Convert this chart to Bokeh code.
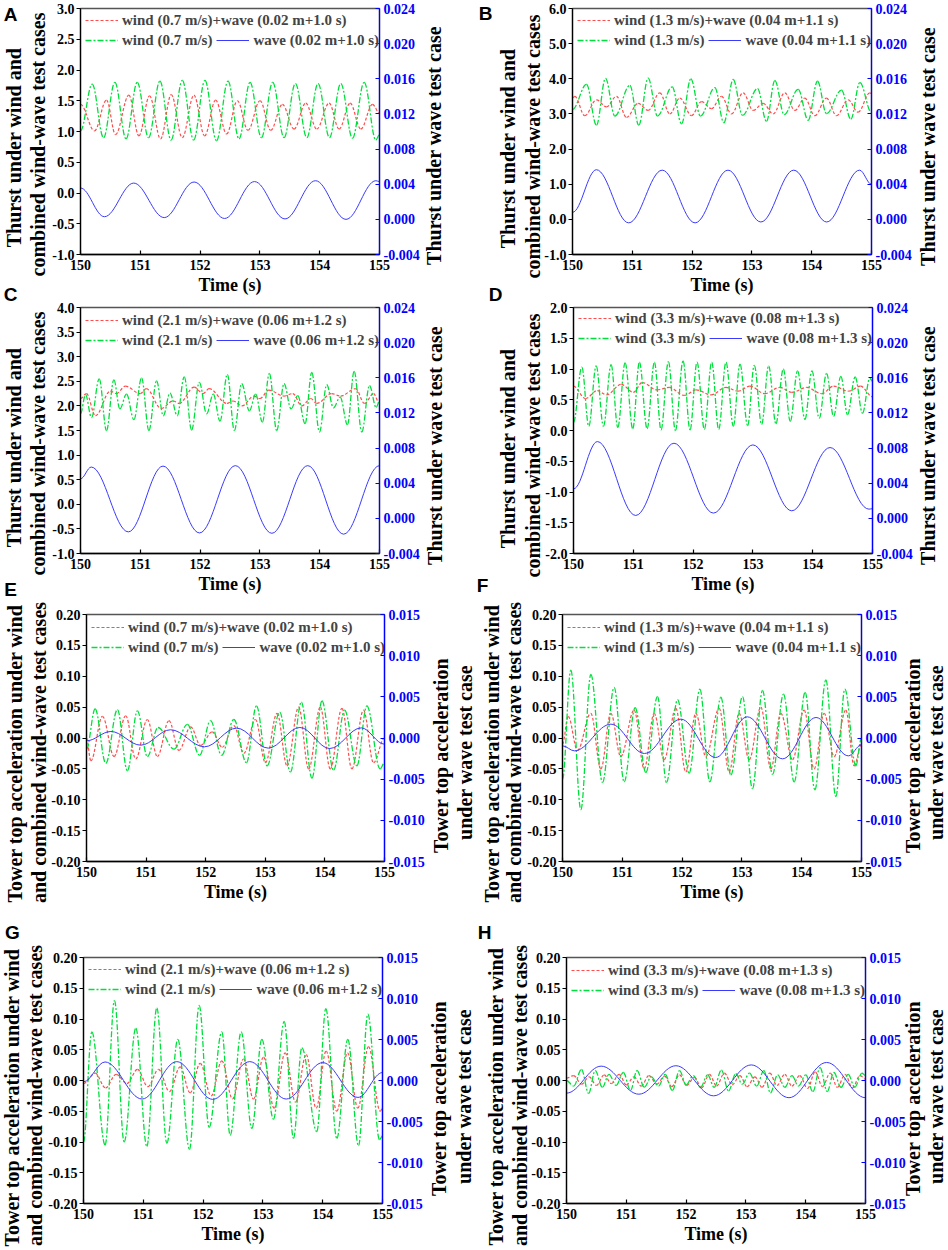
import numpy as np
from bokeh.plotting import figure
from bokeh.models import (Range1d, LinearAxis, FixedTicker, PrintfTickFormatter, Legend,
                          LegendItem, ColumnDataSource, GridBox)
from bokeh.core.properties import value
from bokeh.layouts import column, row
from bokeh.embed import file_html
from bokeh.resources import INLINE

# ---------------- data ----------------
x_ticks = [150, 151, 152, 153, 154, 155]

# Panel A
A_red_t = [150.0, 150.234, 150.435, 150.586, 150.809, 150.977, 151.155, 151.339, 151.518, 151.702, 151.897, 152.076, 152.260, 152.444, 152.623, 152.801, 153.002, 153.181, 153.376, 153.571, 153.767, 153.951, 154.157, 154.325, 154.509, 154.688, 154.883, 155.0]
A_red_v = [1.44, 1.01, 1.51, 0.95, 1.59, 0.93, 1.58, 0.88, 1.60, 0.90, 1.59, 0.93, 1.51, 0.96, 1.50, 1.02, 1.50, 1.02, 1.44, 1.04, 1.46, 1.04, 1.46, 1.04, 1.46, 1.04, 1.44, 1.30]
A_green_t = [150.0, 150.195, 150.385, 150.575, 150.762, 150.949, 151.138, 151.328, 151.515, 151.702, 151.892, 152.081, 152.274, 152.467, 152.651, 152.835, 153.025, 153.214, 153.404, 153.594, 153.784, 153.973, 154.163, 154.353, 154.548, 154.743, 154.94, 155.0]
A_green_v = [1.01, 1.77, 0.90, 1.80, 0.88, 1.80, 0.90, 1.82, 0.86, 1.83, 0.86, 1.83, 0.85, 1.82, 0.88, 1.80, 0.90, 1.80, 0.90, 1.78, 0.90, 1.78, 0.90, 1.78, 0.89, 1.80, 0.86, 0.95]
A_blue_t = [150.0, 150.40, 150.89, 151.40, 151.90, 152.41, 152.91, 153.42, 153.93, 154.44, 154.94, 155.0]
A_blue_v = [0.00357, 0.0003, 0.00413, 0.0002, 0.00425, 0.0001, 0.0043, 0.00005, 0.0044, 0.0, 0.0044, 0.0043]

# Panel B
B_red_t = [150.0, 150.039, 150.206, 150.401, 150.569, 150.736, 150.903, 151.098, 151.265, 151.460, 151.628, 151.795, 151.990, 152.157, 152.324, 152.492, 152.659, 152.854, 153.021, 153.188, 153.356, 153.551, 153.718, 153.885, 154.052, 154.247, 154.415, 154.610, 154.777, 154.972, 155.0]
B_red_v = [3.45, 3.50, 2.95, 3.40, 3.20, 3.50, 2.90, 3.30, 3.10, 3.60, 3.00, 3.45, 2.95, 3.35, 3.15, 3.50, 3.00, 3.60, 3.10, 3.30, 3.00, 3.60, 3.10, 3.45, 2.95, 3.45, 2.95, 3.40, 3.05, 3.60, 3.58]
B_green_t = [150.0, 150.234, 150.401, 150.552, 150.708, 150.959, 151.109, 151.265, 151.421, 151.667, 151.823, 151.979, 152.140, 152.380, 152.531, 152.687, 152.843, 153.094, 153.244, 153.384, 153.540, 153.774, 153.941, 154.097, 154.247, 154.498, 154.654, 154.805, 155.0]
B_green_v = [3.13, 3.84, 2.68, 4.01, 2.94, 3.81, 2.68, 4.02, 2.94, 3.77, 2.72, 4.00, 2.94, 3.75, 2.75, 3.98, 2.96, 3.72, 2.79, 3.95, 2.98, 3.70, 2.82, 3.93, 3.01, 3.68, 2.85, 3.89, 3.04]
B_blue_t = [150.0, 150.40, 150.94, 151.50, 152.05, 152.60, 153.15, 153.70, 154.25, 154.80, 155.0]
B_blue_v = [0.0008, 0.00565, -0.0004, 0.0056, -0.0004, 0.0056, -0.0003, 0.0056, -0.0003, 0.0056, 0.0040]

# Panel C
C_red_t = [150.0, 150.1, 150.25, 150.5, 150.6, 150.75, 151.0, 151.1, 151.35, 151.55, 151.65, 151.9, 152.05, 152.15, 152.45, 152.55, 152.7, 152.9, 153.0, 153.15, 153.4, 153.55, 153.7, 153.85, 153.95, 154.2, 154.35, 154.6, 154.75, 154.9, 155.0]
C_red_v = [2.15, 2.25, 1.80, 2.30, 2.25, 2.40, 2.25, 2.35, 1.95, 2.10, 2.05, 2.38, 2.25, 2.35, 2.05, 2.10, 2.00, 2.20, 2.15, 2.32, 2.20, 2.25, 2.00, 2.15, 2.05, 2.25, 2.20, 2.35, 2.05, 2.25, 2.05]
C_green_t = [150.0, 150.084, 150.184, 150.313, 150.435, 150.558, 150.658, 150.770, 150.893, 151.021, 151.144, 151.272, 151.384, 151.496, 151.618, 151.735, 151.858, 151.987, 152.109, 152.221, 152.333, 152.455, 152.573, 152.695, 152.824, 152.930, 153.041, 153.158, 153.281, 153.404, 153.521, 153.633, 153.756, 153.867, 153.996, 154.118, 154.230, 154.342, 154.464, 154.576, 154.704, 154.833, 154.944, 155.0]
C_green_v = [1.84, 2.23, 1.76, 2.55, 1.50, 2.53, 1.94, 2.24, 1.72, 2.57, 1.50, 2.51, 1.80, 2.26, 1.80, 2.59, 1.51, 2.48, 1.84, 2.24, 1.69, 2.64, 1.50, 2.45, 1.90, 2.24, 1.67, 2.66, 1.50, 2.45, 1.94, 2.21, 1.64, 2.68, 1.47, 2.43, 1.96, 2.18, 1.62, 2.70, 1.47, 2.41, 1.97, 2.10]
C_blue_t = [150.0, 150.18, 150.80, 151.38, 151.99, 152.59, 153.20, 153.80, 154.40, 155.0]
C_blue_v = [0.0045, 0.00584, -0.00154, 0.00595, -0.00166, 0.0060, -0.0017, 0.0060, -0.0018, 0.0060]

# Panel D
D_red_t = [150.0, 150.2, 150.4, 150.55, 150.8, 151.0, 151.15, 151.4, 151.6, 151.85, 152.05, 152.3, 152.55, 152.75, 152.95, 153.2, 153.45, 153.65, 153.9, 154.15, 154.35, 154.6, 154.8, 155.0]
D_red_v = [0.72, 0.52, 0.65, 0.58, 0.75, 0.62, 0.78, 0.66, 0.70, 0.57, 0.66, 0.58, 0.70, 0.64, 0.72, 0.60, 0.70, 0.62, 0.70, 0.60, 0.72, 0.64, 0.72, 0.55]
D_green_t = [150.0, 150.139, 150.256, 150.379, 150.501, 150.629, 150.741, 150.863, 150.991, 151.102, 151.231, 151.353, 151.464, 151.587, 151.704, 151.832, 151.949, 152.066, 152.188, 152.311, 152.428, 152.550, 152.673, 152.784, 152.912, 153.023, 153.146, 153.263, 153.385, 153.508, 153.625, 153.747, 153.870, 153.987, 154.109, 154.232, 154.349, 154.471, 154.582, 154.710, 154.833, 154.955, 155.0]
D_green_v = [0.13, 1.03, 0.07, 1.05, 0.07, 1.07, 0.05, 1.10, 0.03, 1.11, 0.03, 1.11, 0.01, 1.12, 0.00, 1.13, 0.01, 1.11, 0.02, 1.11, 0.02, 1.11, 0.07, 1.08, 0.08, 1.06, 0.10, 1.05, 0.11, 1.00, 0.15, 0.97, 0.18, 0.97, 0.20, 0.93, 0.23, 0.88, 0.26, 0.87, 0.28, 0.85, 0.80]
D_blue_t = [150.0, 150.40, 151.04, 151.68, 152.34, 153.0, 153.65, 154.29, 154.94, 155.0]
D_blue_v = [0.00335, 0.00874, 0.00033, 0.00855, 0.0006, 0.00836, 0.00086, 0.00806, 0.00105, 0.0011]

# Panel E
E_red_t = [150.0, 150.073, 150.268, 150.463, 150.658, 150.826, 151.021, 151.189, 151.384, 151.551, 151.747, 151.914, 152.109, 152.277, 152.472, 152.640, 152.835, 153.002, 153.198, 153.365, 153.560, 153.728, 153.923, 154.090, 154.286, 154.453, 154.648, 154.816, 155.0]
E_red_v = [0.0, -0.037, 0.035, -0.030, 0.036, -0.034, 0.030, -0.030, 0.028, -0.020, 0.018, -0.012, 0.010, -0.015, 0.020, -0.025, 0.030, -0.040, 0.040, -0.045, 0.050, -0.050, 0.050, -0.050, 0.048, -0.050, 0.045, -0.040, 0.0]
E_green_t = [150.0, 150.145, 150.324, 150.519, 150.686, 150.854, 151.021, 151.200, 151.468, 151.691, 151.897, 152.081, 152.266, 152.472, 152.684, 152.852, 153.030, 153.242, 153.421, 153.605, 153.783, 153.951, 154.146, 154.330, 154.537, 154.704, 154.927, 155.0]
E_green_v = [-0.018, 0.047, -0.041, 0.046, -0.053, 0.044, -0.030, 0.017, -0.018, 0.022, -0.028, 0.028, -0.028, 0.030, -0.040, 0.052, -0.045, 0.042, -0.055, 0.058, -0.065, 0.060, -0.052, 0.045, -0.045, 0.052, -0.050, -0.040]
E_blue_t = [150.0, 150.41, 150.91, 151.41, 151.98, 152.52, 153.05, 153.58, 154.08, 154.61, 155.0]
E_blue_v = [-0.00034, 0.00079, -0.00087, 0.0010, -0.00107, 0.0012, -0.00123, 0.00128, -0.00128, 0.00123, -0.00075]

# Panel F
F_red_t = [150.0, 150.095, 150.251, 150.474, 150.641, 150.808, 150.975, 151.198, 151.366, 151.533, 151.700, 151.895, 152.062, 152.230, 152.397, 152.620, 152.787, 152.954, 153.122, 153.317, 153.484, 153.651, 153.846, 154.041, 154.208, 154.376, 154.543, 154.738, 154.877, 155.0]
F_red_v = [-0.01, 0.035, -0.020, 0.040, -0.050, 0.040, -0.030, 0.045, -0.050, 0.040, -0.035, 0.048, -0.055, 0.040, -0.030, 0.048, -0.055, 0.040, -0.035, 0.050, -0.050, 0.040, -0.035, 0.045, -0.050, 0.040, -0.030, 0.045, -0.045, -0.01]
F_green_t = [150.0, 150.139, 150.307, 150.474, 150.669, 150.864, 151.031, 151.215, 151.394, 151.589, 151.739, 151.923, 152.118, 152.297, 152.464, 152.648, 152.815, 153.010, 153.177, 153.344, 153.512, 153.696, 153.874, 154.058, 154.220, 154.404, 154.571, 154.721, 154.905, 155.0]
F_green_v = [-0.067, 0.110, -0.116, 0.103, -0.072, 0.082, -0.071, 0.049, -0.056, 0.067, -0.072, 0.062, -0.057, 0.079, -0.071, 0.066, -0.060, 0.067, -0.082, 0.077, -0.059, 0.071, -0.071, 0.074, -0.084, 0.094, -0.095, 0.079, -0.045, 0.0]
F_blue_t = [150.0, 150.20, 150.81, 151.37, 151.98, 152.56, 153.09, 153.68, 154.24, 154.78, 155.0]
F_blue_v = [-0.00095, -0.00156, 0.00168, -0.00188, 0.00229, -0.00237, 0.00257, -0.00253, 0.00249, -0.00217, -0.00083]

# Panel G
G_red_t = [150.0, 150.195, 150.368, 150.546, 150.725, 150.903, 151.076, 151.254, 151.438, 151.616, 151.784, 151.951, 152.135, 152.313, 152.492, 152.676, 152.843, 153.010, 153.188, 153.372, 153.545, 153.724, 153.891, 154.058, 154.236, 154.415, 154.588, 154.766, 154.961, 155.0]
G_red_v = [-0.005, 0.012, -0.012, 0.010, -0.005, 0.018, -0.010, 0.018, -0.018, 0.022, -0.020, 0.028, -0.025, 0.032, -0.030, 0.035, -0.030, 0.038, -0.045, 0.045, -0.035, 0.042, -0.045, 0.048, -0.050, 0.045, -0.045, 0.055, -0.050, -0.045]
G_green_t = [150.0, 150.139, 150.362, 150.518, 150.680, 150.875, 151.059, 151.226, 151.394, 151.577, 151.773, 151.934, 152.101, 152.313, 152.453, 152.637, 152.815, 152.982, 153.177, 153.356, 153.512, 153.651, 153.902, 154.052, 154.236, 154.420, 154.599, 154.755, 154.950, 155.0]
G_green_v = [-0.100, 0.079, -0.105, 0.130, -0.100, 0.085, -0.107, 0.118, -0.102, 0.067, -0.112, 0.122, -0.076, 0.079, -0.089, 0.079, -0.078, 0.067, -0.063, 0.096, -0.094, 0.053, -0.083, 0.117, -0.094, 0.067, -0.106, 0.108, -0.096, -0.09]
G_blue_t = [150.0, 150.36, 150.98, 151.56, 152.16, 152.78, 153.39, 154.0, 154.59, 155.0]
G_blue_v = [-0.00016, 0.00226, -0.00226, 0.0023, -0.0023, 0.0023, -0.00226, 0.00218, -0.00206, 0.00097]

# Panel H
H_red_t = [150.0, 150.12, 150.25, 150.38, 150.50, 150.63, 150.75, 150.88, 151.00, 151.13, 151.25, 151.38, 151.51, 151.64, 151.76, 151.89, 152.01, 152.14, 152.26, 152.39, 152.51, 152.64, 152.77, 152.90, 153.02, 153.15, 153.27, 153.40, 153.52, 153.65, 153.77, 153.90, 154.03, 154.16, 154.28, 154.41, 154.53, 154.66, 154.78, 154.91, 155.0]
H_red_v = [0.004, 0.008, -0.006, 0.006, -0.008, 0.009, -0.005, 0.010, -0.007, 0.006, -0.009, 0.008, -0.006, 0.007, -0.010, 0.009, -0.008, 0.005, -0.012, 0.010, -0.009, 0.012, -0.007, 0.008, -0.010, 0.006, -0.011, 0.012, -0.008, 0.010, -0.009, 0.008, -0.013, 0.014, -0.010, 0.012, -0.011, 0.010, -0.012, 0.008, 0.002]
H_green_t = [150.0, 150.12, 150.25, 150.37, 150.48, 150.60, 150.71, 150.83, 150.95, 151.07, 151.18, 151.30, 151.42, 151.54, 151.65, 151.77, 151.89, 152.00, 152.12, 152.24, 152.36, 152.47, 152.59, 152.71, 152.83, 152.94, 153.06, 153.18, 153.30, 153.41, 153.53, 153.65, 153.77, 153.88, 154.00, 154.12, 154.24, 154.36, 154.47, 154.59, 154.71, 154.82, 154.94, 155.0]
H_green_v = [0.000, -0.009, 0.018, -0.021, 0.016, -0.011, 0.010, -0.008, 0.013, -0.016, 0.016, -0.011, 0.006, -0.009, 0.010, -0.016, 0.016, -0.007, 0.008, -0.011, 0.009, -0.011, 0.017, -0.017, 0.011, -0.006, 0.012, -0.009, 0.016, -0.020, 0.009, -0.011, 0.008, -0.009, 0.009, -0.018, 0.021, -0.018, 0.013, -0.011, 0.010, -0.011, 0.012, 0.008]
H_blue_t = [150.0, 150.58, 151.21, 151.83, 152.46, 153.09, 153.72, 154.35, 155.0]
H_blue_v = [-0.00154, 0.00175, -0.00167, 0.0018, -0.00187, 0.0019, -0.0021, 0.0022, -0.0021]

# axis ticks
thrust_ticks_A = [-1.0, -0.5, 0.0, 0.5, 1.0, 1.5, 2.0, 2.5, 3.0]
thrust_ticks_B = [-1.0, 0.0, 1.0, 2.0, 3.0, 4.0, 5.0, 6.0]
thrust_ticks_C = [-1.0, -0.5, 0.0, 0.5, 1.0, 1.5, 2.0, 2.5, 3.0, 3.5, 4.0]
thrust_ticks_D = [-2.0, -1.5, -1.0, -0.5, 0.0, 0.5, 1.0, 1.5, 2.0]
thrust_wave_ticks = [-0.004, 0.0, 0.004, 0.008, 0.012, 0.016, 0.020, 0.024]
acc_ticks = [-0.20, -0.15, -0.10, -0.05, 0.0, 0.05, 0.10, 0.15, 0.20]
acc_wave_ticks = [-0.015, -0.010, -0.005, 0.0, 0.005, 0.010, 0.015]

cases = [("0.7", "0.02", "1.0"), ("1.3", "0.04", "1.1"), ("2.1", "0.06", "1.2"), ("3.3", "0.08", "1.3")]
panel_letters = ["A", "B", "C", "D", "E", "F", "G", "H"]
thr_lab = ["Thurst under wind and", "combined wind-wave test cases"]
thr_rlab = ["Thurst under wave test case"]
acc_lab = ["Tower top acceleration under wind", "and combined wind-wave test cases"]
acc_rlab = ["Tower top acceleration", "under wave test case"]

# ---------------- styling / layout ----------------
SERIF = "Liberation Serif"
SANS = "Liberation Sans"
RED = "#FF4D4D"
GREEN = "#00E03C"
BLUE = "#3A3AFF"
AXBLUE = "#0000FF"
RED_DASH = "3 2"
GREEN_DASH = "6 2 2 2"

PAGE_W, PAGE_H = 948, 1248
# per panel: (width, height, left, plot_w, right, top, plot_h, bottom)
GEOM = {
    "A": (474, 299, 80, 299, 95, 7, 247, 45),
    "B": (474, 299, 98, 299, 77, 8, 247, 44),
    "C": (474, 303, 80, 299, 95, 8, 246, 49),
    "D": (474, 303, 99, 299, 76, 8, 248, 47),
    "E": (474, 303, 86, 298, 90, 12, 247, 44),
    "F": (474, 303, 88, 299, 87, 12, 247, 44),
    "G": (474, 343, 83, 299, 92, 52, 247, 44),
    "H": (474, 343, 92, 299, 83, 52, 246, 45),
}


def add_curve(p, ts, vs, color, dash, width, yname=None):
    t = np.asarray(ts, dtype=float)
    v = np.asarray(vs, dtype=float)
    d = (t[1:] - t[:-1]) * 0.3642
    src = ColumnDataSource(dict(x0=t[:-1], y0=v[:-1], x1=t[1:], y1=v[1:],
                                cx0=t[:-1] + d, cy0=v[:-1], cx1=t[1:] - d, cy1=v[1:]))
    kw = {}
    if yname:
        kw["y_range_name"] = yname
    return p.bezier(x0="x0", y0="y0", x1="x1", y1="y1", cx0="cx0", cy0="cy0", cx1="cx1", cy1="cy1",
                    source=src, line_color=color, line_width=width, line_dash=dash, **kw)


def style_axis(ax, color, tick_in, tick_out):
    ax.axis_line_color = color
    ax.axis_line_width = 1.3
    ax.major_tick_line_color = color
    ax.major_tick_line_width = 1.2
    ax.major_tick_in = tick_in
    ax.major_tick_out = tick_out
    ax.minor_tick_line_color = None
    ax.major_label_text_font = SERIF
    ax.major_label_text_font_style = "bold"
    ax.major_label_text_font_size = "14px"
    ax.major_label_text_color = color
    ax.axis_label_text_font = SERIF
    ax.axis_label_text_font_style = "bold"
    ax.axis_label_text_color = "black"


def make_panel(key, yl, yticks, yfmt, yr, rticks, case, series):
    W, H, L, PW, R, T, P, B = GEOM[key]
    p = figure(width=W, height=H, x_range=Range1d(150, 155), y_range=Range1d(*yl),
               output_backend="svg", toolbar_location=None,
               min_border_left=L, min_border_right=R, min_border_top=T, min_border_bottom=B)
    p.xgrid.visible = False
    p.ygrid.visible = False
    p.outline_line_color = "#555555"
    p.outline_line_width = 1.3
    p.background_fill_color = "white"
    p.border_fill_color = "white"
    p.extra_y_ranges = {"r": Range1d(*yr)}

    xa = p.xaxis[0]
    xa.ticker = FixedTicker(ticks=x_ticks)
    style_axis(xa, "black", 4, 0)
    xa.axis_label = "Time (s)"
    xa.axis_label_text_font_size = "18px"
    xa.major_label_standoff = 5
    xa.axis_label_standoff = 2

    ya = p.yaxis[0]
    ya.ticker = FixedTicker(ticks=yticks)
    ya.formatter = PrintfTickFormatter(format=yfmt)
    style_axis(ya, "black", 0, 4)
    ya.major_label_standoff = 2

    ra = LinearAxis(y_range_name="r", ticker=FixedTicker(ticks=rticks),
                    formatter=PrintfTickFormatter(format="%.3f"))
    style_axis(ra, AXBLUE, 4, 0)
    ra.major_label_standoff = 4
    p.add_layout(ra, "right")

    (rt, rv), (gt, gv), (bt, bv) = series
    r_red = add_curve(p, rt, rv, RED, RED_DASH, 1.2)
    r_green = add_curve(p, gt, gv, GREEN, GREEN_DASH, 1.3)
    r_blue = add_curve(p, bt, bv, BLUE, "solid", 1.0, "r")

    w, h, tp = case
    lab1 = f"wind ({w} m/s)+wave ({h} m+{tp} s)"
    lab2 = f"wind ({w} m/s)"
    lab3 = f"wave ({h} m+{tp} s)"
    common = dict(label_text_font=SERIF, label_text_font_style="bold", label_text_font_size="15px",
                  glyph_width=33, glyph_height=18, label_height=18, label_standoff=4, spacing=4,
                  padding=0, margin=0, border_line_alpha=0, background_fill_alpha=0)
    leg1 = Legend(items=[LegendItem(label=lab1, renderers=[r_red], index=0)], location=(5, P - 22),
                  orientation="vertical", **common)
    leg2 = Legend(items=[LegendItem(label=lab2, renderers=[r_green], index=0),
                         LegendItem(label=lab3, renderers=[r_blue], index=0)],
                  location=(5, P - 42), orientation="horizontal", **common)
    p.add_layout(leg1)
    p.add_layout(leg2)
    return p


pA = make_panel("A", (-1.0, 3.0), thrust_ticks_A, "%.1f", (-0.004, 0.024), thrust_wave_ticks, cases[0],
                [(A_red_t, A_red_v), (A_green_t, A_green_v), (A_blue_t, A_blue_v)])
pB = make_panel("B", (-1.0, 6.0), thrust_ticks_B, "%.1f", (-0.004, 0.024), thrust_wave_ticks, cases[1],
                [(B_red_t, B_red_v), (B_green_t, B_green_v), (B_blue_t, B_blue_v)])
pC = make_panel("C", (-1.0, 4.0), thrust_ticks_C, "%.1f", (-0.004, 0.024), thrust_wave_ticks, cases[2],
                [(C_red_t, C_red_v), (C_green_t, C_green_v), (C_blue_t, C_blue_v)])
pD = make_panel("D", (-2.0, 2.0), thrust_ticks_D, "%.1f", (-0.004, 0.024), thrust_wave_ticks, cases[3],
                [(D_red_t, D_red_v), (D_green_t, D_green_v), (D_blue_t, D_blue_v)])
pE = make_panel("E", (-0.2, 0.2), acc_ticks, "%.2f", (-0.015, 0.015), acc_wave_ticks, cases[0],
                [(E_red_t, E_red_v), (E_green_t, E_green_v), (E_blue_t, E_blue_v)])
pF = make_panel("F", (-0.2, 0.2), acc_ticks, "%.2f", (-0.015, 0.015), acc_wave_ticks, cases[1],
                [(F_red_t, F_red_v), (F_green_t, F_green_v), (F_blue_t, F_blue_v)])
pG = make_panel("G", (-0.2, 0.2), acc_ticks, "%.2f", (-0.015, 0.015), acc_wave_ticks, cases[2],
                [(G_red_t, G_red_v), (G_green_t, G_green_v), (G_blue_t, G_blue_v)])
pH = make_panel("H", (-0.2, 0.2), acc_ticks, "%.2f", (-0.015, 0.015), acc_wave_ticks, cases[3],
                [(H_red_t, H_red_v), (H_green_t, H_green_v), (H_blue_t, H_blue_v)])

main = column(row(pA, pB), row(pC, pD), row(pE, pF), row(pG, pH))

# ---------------- overlay with the texts that sit outside the plot frames ----------------
ov = figure(width=PAGE_W, height=PAGE_H, x_range=Range1d(0, PAGE_W), y_range=Range1d(PAGE_H, 0),
            output_backend="svg", toolbar_location=None, min_border=0,
            x_axis_type=None, y_axis_type=None)
ov.outline_line_color = None
ov.background_fill_alpha = 0
ov.border_fill_alpha = 0

# vertical axis titles: (page x, page y, text)
left_title_pos = [
    (13, 147, thr_lab[0]), (37, 144, thr_lab[1]),            # A
    (507, 148, thr_lab[0]), (532, 146, thr_lab[1]),          # B
    (13, 447, thr_lab[0]), (37, 443, thr_lab[1]),            # C
    (507, 448, thr_lab[0]), (532, 445, thr_lab[1]),          # D
    (14, 753, acc_lab[0]), (38, 752, acc_lab[1]),            # E
    (491, 753, acc_lab[0]), (513, 752, acc_lab[1]),          # F
    (11, 1097, acc_lab[0]), (34, 1095, acc_lab[1]),          # G
    (495, 1096, acc_lab[0]), (519, 1095, acc_lab[1]),        # H
]
right_title_pos = [
    (433, 145, thr_rlab[0]), (927, 146, thr_rlab[0]),
    (434, 445, thr_rlab[0]), (927, 445, thr_rlab[0]),
    (440, 755, acc_rlab[0]), (464, 752, acc_rlab[1]),
    (912, 755, acc_rlab[0]), (935, 752, acc_rlab[1]),
    (438, 1098, acc_rlab[0]), (463, 1096, acc_rlab[1]),
    (912, 1098, acc_rlab[0]), (935, 1096, acc_rlab[1]),
]
vt = left_title_pos + right_title_pos
ov.text(x=[a[0] for a in vt], y=[a[1] for a in vt], text=[a[2] for a in vt], angle=np.pi / 2,
        text_font=value(SERIF), text_font_style="bold", text_font_size="20px",
        text_align="center", text_baseline="middle", text_color="black")

letter_pos = [(10, 14), (485, 13), (10, 294), (495, 294), (10, 589), (482, 585), (12, 932), (484, 932)]
ov.text(x=[a[0] for a in letter_pos], y=[a[1] for a in letter_pos], text=panel_letters,
        text_font=value(SANS), text_font_style="bold", text_font_size="19px",
        text_align="center", text_baseline="middle", text_color="black")

layout = GridBox(children=[(main, 0, 0), (ov, 0, 0)])
open("out.html", "w").write(file_html(layout, INLINE))
